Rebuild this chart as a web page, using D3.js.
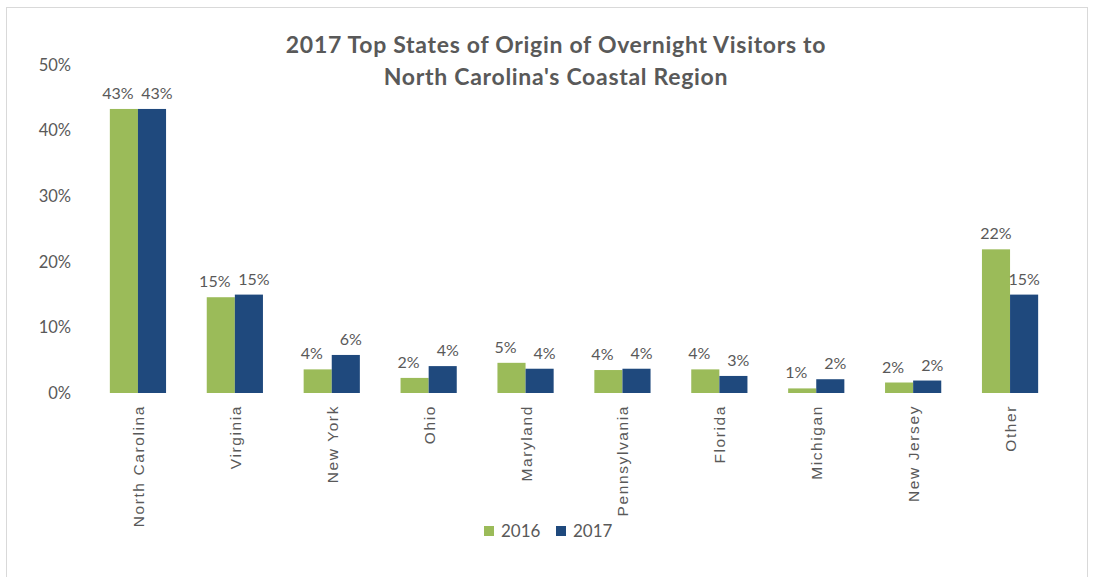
<!DOCTYPE html>
<html><head><meta charset="utf-8">
<script src="https://cdn.jsdelivr.net/npm/d3@7"></script>
<style>body{margin:0;background:#fff;} svg{display:block;}</style>
</head><body>
<svg id="c" width="1095" height="577"></svg>
<script>
const categories = ["North Carolina","Virginia","New York","Ohio","Maryland","Pennsylvania","Florida","Michigan","New Jersey","Other"];
const series = ["2016","2017"];
const values2016 = [0.433,0.146,0.036,0.023,0.046,0.035,0.036,0.007,0.016,0.219];
const values2017 = [0.433,0.150,0.058,0.041,0.037,0.037,0.026,0.021,0.019,0.150];
const yTicks = [0,0.1,0.2,0.3,0.4,0.5];
const titleLines = ["2017 Top States of Origin of Overnight Visitors to","North Carolina's Coastal Region"];
const colors = ["#9bbb59","#1f497d"];

const svg = d3.select("#c");
const textColor = "#595959";
const calibri = "Lato, 'Open Sans', sans-serif";

svg.append("rect").attr("x",6.5).attr("y",7.5).attr("width",1081).attr("height",600)
  .attr("fill","#fff").attr("stroke","#d9d9d9");

const x0 = d3.scaleBand().domain(categories).range([89.5,1058.5]).paddingInner(0.42).paddingOuter(0.21);
const x1 = d3.scaleBand().domain(series).range([0,x0.bandwidth()]);
const y = d3.scaleLinear().domain([0,0.5]).range([393,65]);

// y axis
const yAxis = d3.axisLeft(y).tickValues(yTicks).tickFormat(d3.format(".0%")).tickSize(0).tickPadding(0);
const gy = svg.append("g").attr("transform","translate(71,0)").call(yAxis);
gy.select(".domain").remove();
gy.selectAll("text").attr("fill",textColor).style("font-family",calibri).style("font-size","16.5px");

// x axis labels
const xAxis = d3.axisBottom(x0).tickSize(0).tickPadding(0);
const gx = svg.append("g").attr("transform","translate(0,393)").call(xAxis);
gx.select(".domain").remove();
gx.selectAll("text")
  .attr("transform","translate(6,12) rotate(-90)")
  .attr("x",0).attr("y",0).attr("dy",0)
  .style("text-anchor","end")
  .attr("fill",textColor)
  .style("font-family","'Liberation Sans', Arial, sans-serif")
  .style("font-size","15.5px")
  .style("letter-spacing","1.6px");

// bars
const data = categories.map((c,i)=>({cat:c, vals:[values2016[i],values2017[i]]}));
const grp = svg.append("g").selectAll("g").data(data).join("g")
  .attr("transform",d=>`translate(${x0(d.cat)},0)`);
grp.selectAll("rect").data(d=>d.vals.map((v,j)=>({s:series[j],v,j}))).join("rect")
  .attr("x",d=>x1(d.s)).attr("width",x1.bandwidth())
  .attr("y",d=>y(d.v)).attr("height",d=>y(0)-y(d.v))
  .attr("fill",d=>colors[d.j]);
grp.selectAll("text").data(d=>d.vals.map((v,j)=>({s:series[j],v,j,other:d.vals[1-j]}))).join("text")
  .attr("x",d=>{
    const c = x1(d.s)+x1.bandwidth()/2;
    const close = Math.abs(y(d.v)-y(d.other)) < 16;
    return c + (close ? (d.j===0 ? -6 : 5) : 0);
  })
  .attr("y",d=>y(d.v)-10)
  .attr("text-anchor","middle")
  .attr("fill",textColor).style("font-family",calibri).style("font-size","16px")
  .text(d=>d3.format(".0%")(d.v));

// title
svg.append("text").attr("x",556).attr("y",53).attr("text-anchor","middle")
  .attr("fill",textColor).style("font-family",calibri).style("font-weight","bold").style("font-size","23px")
  .style("letter-spacing","0.7px")
  .selectAll("tspan").data(titleLines).join("tspan")
  .attr("x",556).attr("dy",(d,i)=>i===0?0:32).text(d=>d);

// legend
const legend = svg.append("g").attr("transform","translate(484,531)");
const li = legend.selectAll("g").data(series).join("g").attr("transform",(d,i)=>`translate(${i*72},0)`);
li.append("rect").attr("x",0).attr("y",-5).attr("width",10).attr("height",10).attr("fill",(d,i)=>colors[i]);
li.append("text").attr("x",17).attr("y",6).attr("fill",textColor)
  .style("font-family",calibri).style("font-size","17px").text(d=>d);
</script>
</body></html>
